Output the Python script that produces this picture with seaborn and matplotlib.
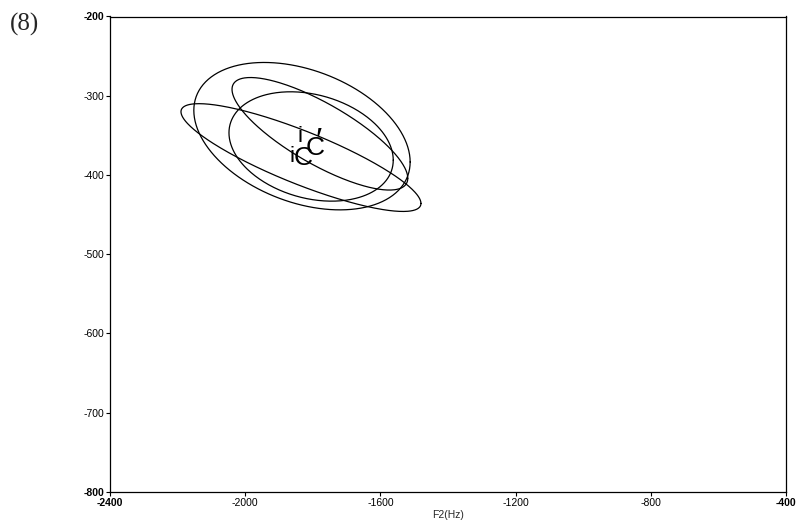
import numpy as np
import pandas as pd
import matplotlib
matplotlib.use("Agg")
import matplotlib.pyplot as plt
import seaborn as sns

# ---- data ----
ell_names = ["A", "B", "C", "D"]
ell_cx = [-1832, -1835, -1779, -1805]      # F2 centre (Hz)
ell_cy = [-351, -378, -348, -364]          # -F1 centre (Hz)
ell_rx = [320, 355, 260, 243]              # half x-extent
ell_ry = [93, 68, 71, 69]                  # half y-extent
ell_corr = [-0.35, -0.85, -0.79, -0.25]    # cos(phase) -> tilt

label_texts = ["i", "C", "\u2032", "i", "C"]
label_x = [-1844, -1820, -1792, -1870, -1856]
label_y = [-358, -375, -370, -384, -387]
label_size = [16, 19, 24, 16, 19]

xticks = [-2400, -2000, -1600, -1200, -800, -400]
yticks = [-200, -300, -400, -500, -600, -700, -800]

# ---- build ellipse outlines ----
t = np.linspace(0, 2 * np.pi, 361)
rows = []
for n, cx, cy, rx, ry, c in zip(ell_names, ell_cx, ell_cy, ell_rx, ell_ry, ell_corr):
    d = np.arccos(c)
    xs = cx + rx * np.cos(t)
    ys = cy + ry * np.cos(t - d)
    rows.append(pd.DataFrame({"x": xs, "y": ys, "g": n, "o": np.arange(len(t))}))
df = pd.concat(rows, ignore_index=True)

sns.set_theme(style="white")
plt.rcParams["font.family"] = ["Liberation Sans", "DejaVu Sans"]

fig = plt.figure(figsize=(7.96, 5.20), dpi=100)
ax = fig.add_axes([110 / 796, 1 - 492 / 520, 676 / 796, 475.5 / 520])

for n in ell_names:
    sub = df[df["g"] == n]
    sns.lineplot(data=sub, x="x", y="y", sort=False, estimator=None,
                 color="black", linewidth=0.9, ax=ax, legend=False)

for s, x, y, fs in zip(label_texts, label_x, label_y, label_size):
    ax.text(x, y, s, fontsize=fs, ha="left", va="baseline", color="black",
            family=["Liberation Sans", "DejaVu Sans"])

ax.set_xlim(-2400, -400)
ax.set_ylim(-800, -200)
ax.set_xticks(xticks)
ax.set_yticks(yticks)
ax.set_xticklabels([str(v) for v in xticks])
ax.set_yticklabels([str(v) for v in yticks])
for i, lab in enumerate(ax.get_xticklabels()):
    if i in (0, len(xticks) - 1):
        lab.set_fontweight("bold")
for i, lab in enumerate(ax.get_yticklabels()):
    if i in (0, len(yticks) - 1):
        lab.set_fontweight("bold")
ax.tick_params(axis="both", which="major", labelsize=7.5, length=3, width=0.8,
               direction="out", pad=1, color="black", labelcolor="black",
               bottom=True, left=True)
ax.set_xlabel("F2(Hz)", fontsize=7.5, labelpad=2)
ax.set_ylabel("")
for sp in ax.spines.values():
    sp.set_visible(True)
    sp.set_color("black")
    sp.set_linewidth(0.9)

fig.text(10 / 796, 1 - 31 / 520, "(8)", fontsize=18, family=["Liberation Serif"],
         ha="left", va="baseline")

fig.savefig("out.png", dpi=100)
